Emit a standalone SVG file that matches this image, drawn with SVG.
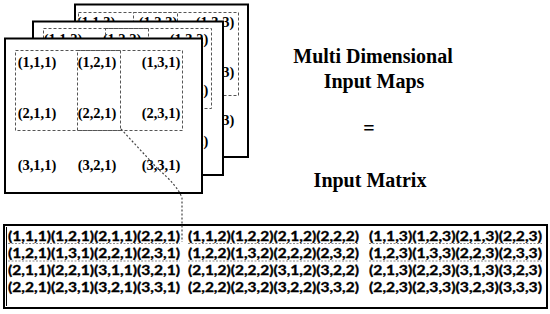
<svg xmlns="http://www.w3.org/2000/svg" width="550" height="314" viewBox="0 0 550 314">
<style>
.sheet{fill:#fff;stroke:#000;stroke-width:2}
.win{fill:none;stroke:#555;stroke-width:1;stroke-dasharray:3 2}
.t{font-family:"Liberation Serif","Times New Roman",serif;font-weight:bold;font-size:14.5px;fill:#000;text-anchor:middle}
.title{font-family:"Liberation Serif","Times New Roman",serif;font-weight:bold;font-size:20px;fill:#000;text-anchor:middle}
.m{font-family:Lato,"Open Sans",sans-serif;font-weight:bold;font-size:13.5px;fill:#000;stroke:#000;stroke-width:0.35}
.ul{stroke:#888;stroke-width:1;stroke-dasharray:2 1.5}
.conn{fill:none;stroke:#444;stroke-width:1.2;stroke-dasharray:2 2}
</style>
<rect width="550" height="314" fill="#fff"/>
<g id="map3">
<rect class="sheet" x="75" y="4.5" width="173" height="152.5"/>
<text class="t" x="96" y="27">(1,1,3)</text><text class="t" x="158" y="27">(1,2,3)</text><text class="t" x="215" y="27">(1,3,3)</text>
<text class="t" x="215" y="77">(2,3,3)</text>
<text class="t" x="215" y="125">(3,3,3)</text>
<rect class="win" x="78.5" y="12.5" width="99" height="83"/>
<rect class="win" x="133.5" y="12.5" width="105" height="83"/>
</g>
<g id="map2">
<rect class="sheet" x="33" y="21.5" width="190" height="153.5"/>
<text class="t" x="63" y="44">(1,1,2)</text><text class="t" x="122" y="44">(1,2,2)</text><text class="t" x="189" y="44">(1,3,2)</text>
<text class="t" x="189" y="95">(2,3,2)</text>
<text class="t" x="189" y="146">(3,3,2)</text>
<rect class="win" x="43.5" y="28.5" width="105" height="80"/>
<rect class="win" x="105.5" y="28.5" width="106" height="80"/>
</g>
<g id="map1">
<rect class="sheet" x="5" y="38.5" width="197" height="154.5"/>
<text class="t" x="37" y="67">(1,1,1)</text><text class="t" x="97" y="67">(1,2,1)</text><text class="t" x="161" y="67">(1,3,1)</text>
<text class="t" x="37" y="118">(2,1,1)</text><text class="t" x="97" y="118">(2,2,1)</text><text class="t" x="161" y="118">(2,3,1)</text>
<text class="t" x="37" y="170">(3,1,1)</text><text class="t" x="97" y="170">(3,2,1)</text><text class="t" x="161" y="170">(3,3,1)</text>
<rect class="win" x="15.5" y="50.5" width="105" height="80"/>
<rect class="win" x="77.5" y="50.5" width="105" height="80"/>
</g>
<g id="labels">
<text class="title" x="373" y="63">Multi Dimensional</text>
<text class="title" x="374" y="88">Input Maps</text>
<text class="title" x="369" y="135">=</text>
<text class="title" x="370" y="187">Input Matrix</text>
</g>
<g id="matrix">
<rect x="4" y="225" width="543" height="83" fill="#fff" stroke="#000" stroke-width="2"/>
<line x1="6.5" y1="227" x2="6.5" y2="306" stroke="#000" stroke-width="1"/>
<line x1="8" y1="243.5" x2="180" y2="243.5" class="ul"/><line x1="188" y1="243.5" x2="359" y2="243.5" class="ul"/><line x1="369" y1="243.5" x2="542" y2="243.5" class="ul"/>
<line x1="8" y1="261" x2="180" y2="261" class="ul"/><line x1="188" y1="261" x2="359" y2="261" class="ul"/><line x1="369" y1="261" x2="542" y2="261" class="ul"/>
<text class="m" x="8" y="241" textLength="172" lengthAdjust="spacingAndGlyphs">(1,1,1)(1,2,1)(2,1,1)(2,2,1)</text>
<text class="m" x="188" y="241" textLength="171" lengthAdjust="spacingAndGlyphs">(1,1,2)(1,2,2)(2,1,2)(2,2,2)</text>
<text class="m" x="369" y="241" textLength="173" lengthAdjust="spacingAndGlyphs">(1,1,3)(1,2,3)(2,1,3)(2,2,3)</text>
<text class="m" x="8" y="258" textLength="172" lengthAdjust="spacingAndGlyphs">(1,2,1)(1,3,1)(2,2,1)(2,3,1)</text>
<text class="m" x="188" y="258" textLength="171" lengthAdjust="spacingAndGlyphs">(1,2,2)(1,3,2)(2,2,2)(2,3,2)</text>
<text class="m" x="369" y="258" textLength="173" lengthAdjust="spacingAndGlyphs">(1,2,3)(1,3,3)(2,2,3)(2,3,3)</text>
<text class="m" x="8" y="275" textLength="172" lengthAdjust="spacingAndGlyphs">(2,1,1)(2,2,1)(3,1,1)(3,2,1)</text>
<text class="m" x="188" y="275" textLength="171" lengthAdjust="spacingAndGlyphs">(2,1,2)(2,2,2)(3,1,2)(3,2,2)</text>
<text class="m" x="369" y="275" textLength="173" lengthAdjust="spacingAndGlyphs">(2,1,3)(2,2,3)(3,1,3)(3,2,3)</text>
<text class="m" x="8" y="292" textLength="172" lengthAdjust="spacingAndGlyphs">(2,2,1)(2,3,1)(3,2,1)(3,3,1)</text>
<text class="m" x="188" y="292" textLength="171" lengthAdjust="spacingAndGlyphs">(2,2,2)(2,3,2)(3,2,2)(3,3,2)</text>
<text class="m" x="369" y="292" textLength="173" lengthAdjust="spacingAndGlyphs">(2,2,3)(2,3,3)(3,2,3)(3,3,3)</text>
</g>
<g id="connectors">
<path class="conn" d="M121,129 L157,168 Q178,186 182,198 L182,242"/>
</g>
</svg>
